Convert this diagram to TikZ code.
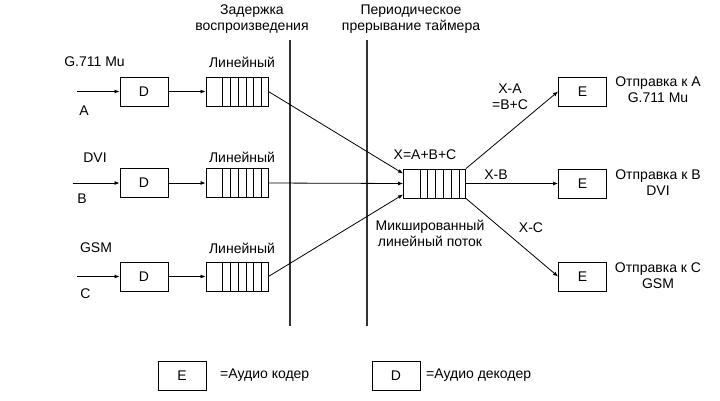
\documentclass[tikz,border=0pt]{standalone}
\usepackage{fontspec}
\setmainfont{Liberation Sans}
\usetikzlibrary{arrows.meta}

\begin{document}
\begin{tikzpicture}[x=1pt,y=-1pt,
  box/.style={draw, line width=0.9pt, minimum width=48pt, minimum height=29pt, inner sep=0pt, font=\fontsize{14}{16}\selectfont},
  queue/.style={draw, line width=0.9pt, minimum width=62pt, minimum height=29pt, inner sep=0pt},
  wire/.style={line width=0.8pt, -{Latex[length=5pt,width=4pt]}},
  link/.style={line width=0.8pt},
  txt/.style={font=\fontsize{14}{16}\selectfont, inner sep=0pt, align=center}]
  \useasboundingbox (0,0) rectangle (720,400);

  % Draw the two time markers
  \coordinate (v1t) at (290,40);
  \coordinate (v1b) at (290,326);
  \coordinate (v2t) at (367,40);
  \coordinate (v2b) at (367,326);
  \draw[line width=1.2pt, black!80] (v1t) -- (v1b);
  \draw[line width=1.2pt, black!80] (v2t) -- (v2b);
  \node[txt] (tdelay) at (252,19) {Задержка\\воспроизведения};
  \node[txt] (ttimer) at (411,19) {Периодическое\\прерывание таймера};

  % decoders and queues
  \node[box] (da) at (144,91.5) {D};
  \node[box] (db) at (144,183) {D};
  \node[box] (dc) at (144,276.5) {D};
  \node[queue] (qa) at (237,91.5) {};
  \node[queue] (qb) at (237,183) {};
  \node[queue] (qc) at (237,276.5) {};
  \node[queue] (mix) at (434.5,183.5) {};
  \foreach \q in {qa,qb,qc,mix}
    \foreach \k in {0,...,5}
      \draw[link] ([xshift=17pt+7.8pt*\k]\q.south west) -- ([xshift=17pt+7.8pt*\k]\q.north west);

  % encoders
  \node[box] (ea) at (582.5,91.5) {E};
  \node[box] (eb) at (582.5,183.5) {E};
  \node[box] (ec) at (582.5,276.5) {E};

  % inputs
  \coordinate (ina) at (77,91.5);
  \coordinate (inb) at (73,183);
  \coordinate (inc) at (77,276.5);
  \draw[wire] (ina) -- (da);
  \draw[wire] (inb) -- (db);
  \draw[wire] (inc) -- (dc);
  \draw[wire] (da) -- (qa);
  \draw[wire] (db) -- (qb);
  \draw[wire] (dc) -- (qc);

  % mixing
  \draw[wire] (qa.east) -- ([yshift=10pt]mix.west);
  \draw[wire] (qb.east) -- (mix.west);
  \draw[wire] (qc.east) -- ([yshift=-11pt]mix.west);
  \draw[wire] (mix.north east) -- (ea.west);
  \draw[wire] (mix.east) -- (eb.west);
  \draw[wire] (mix.south east) -- (ec.west);

  \node[txt] (lga) at (94.5,62) {G.711 Mu};
  \node[txt] (lsa) at (84,111) {A};
  \node[txt] (lgb) at (95,158) {DVI};
  \node[txt] (lsb) at (82,199) {B};
  \node[txt] (lgc) at (96,248) {GSM};
  \node[txt] (lsc) at (85.5,294) {C};
  \node[txt] (lqa) at (242,62) {Линейный};
  \node[txt] (lqb) at (242,157) {Линейный};
  \node[txt] (lqc) at (242,248) {Линейный};
  \node[txt] (lsum) at (425,155) {X=A+B+C};
  \node[txt] (lmix) at (430,233) {Микшированный\\линейный поток};
  \node[txt] (lxa) at (510,96.5) {X-A\\=B+C};
  \node[txt] (lxb) at (496,175) {X-B};
  \node[txt] (lxc) at (531,228) {X-C};
  \node[txt] (loa) at (658,90) {Отправка к A\\G.711 Mu};
  \node[txt] (lob) at (658,183) {Отправка к B\\DVI};
  \node[txt] (loc) at (658,276) {Отправка к C\\GSM};

  % legend
  \node[box] (le) at (182,376) {E};
  \node[box] (ld) at (396,376) {D};
  \node[txt, anchor=west] (lle) at (220,375) {=Аудио кодер};
  \node[txt, anchor=west] (lld) at (426,375) {=Аудио декодер};
\end{tikzpicture}
\end{document}
